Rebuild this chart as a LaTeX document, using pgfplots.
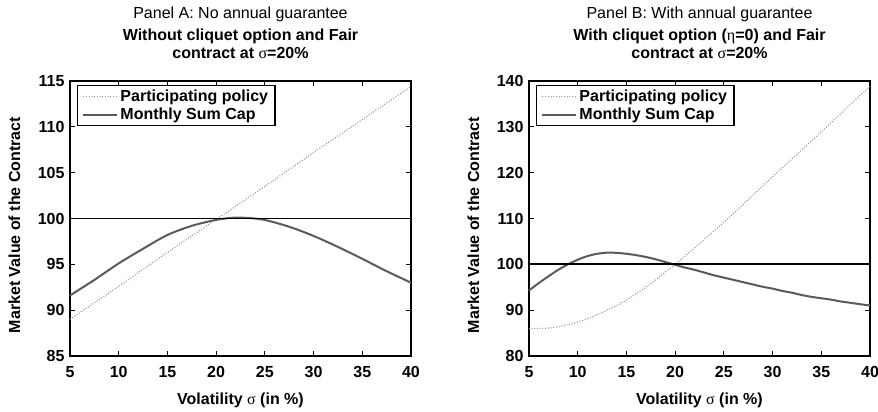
\documentclass[border=0pt]{standalone}
\usepackage{fontspec}
\setmainfont{Liberation Sans}
\newfontfamily\symf{Liberation Serif}
\usepackage{pgfplots}
\pgfplotsset{compat=1.18}
\newcommand{\fs}{\fontsize{16}{17.5}\selectfont}
\newcommand{\gs}[1]{{\symf\mdseries #1}}
\definecolor{capgray}{RGB}{90,90,90}
\definecolor{dotgray}{RGB}{145,145,145}
\pgfplotsset{
  mystyle/.style={
    scale only axis,
    width=341pt, height=275pt,
    xmin=5, xmax=40,
    xtick={5,10,...,40},
    axis line style={line width=1.6pt},
    tick style={line width=1pt, black},
    tick align=inside,
    major tick length=5pt,
    /pgf/number format/assume math mode=true,
    tick label style={font=\bfseries\fs},
    xticklabel style={yshift=-7pt},
    yticklabel style={xshift=-2pt},
    x label style={font=\bfseries\fs, at={(axis description cs:0.5,-0.16)}, anchor=center},
    y label style={font=\bfseries\fs, at={(axis description cs:-0.163,0.476)}, anchor=center},
    xlabel={Volatility \gs{σ} (in \%)},
    ylabel={Market Value of the Contract},
    title style={font=\bfseries\fs, align=center, at={(0.5,1)}, anchor=south, yshift=13pt},
    legend style={draw=black, line width=1.3pt, fill=white, font=\bfseries\fs,
      at={(0.02,0.986)}, anchor=north west, inner xsep=5pt, inner ysep=2.5pt,
      row sep=1pt, cells={anchor=west}},
    legend image code/.code={\draw[##1] (0pt,0pt) -- (34pt,0pt);},
    clip=false,
  }
}
\begin{document}
\begin{tikzpicture}
\useasboundingbox (-70pt,-56pt) rectangle (808pt,356pt);
\begin{axis}[mystyle,
  ymin=85, ymax=115, ytick={85,90,...,115},
  title={Without cliquet option and Fair\\contract at \gs{σ}=20\%}]
\addplot[dotgray, line width=1.2pt, dash pattern=on 0.9pt off 1.8pt] coordinates {
(5,89.0) (10,92.6) (15,96.3) (20,99.9) (25,103.5) (30,107.2) (35,110.8) (40,114.4)};
\addlegendentry{Participating policy}
\addplot[capgray, line width=2pt, smooth] coordinates {
(5,91.6) (7.5,93.3) (10,95.1) (12.5,96.7) (15,98.2) (17.5,99.2) (20,99.85) (22,100.1) (24,100.0) (25,99.85) (27.5,99.1) (30,98.1) (32.5,96.9) (35,95.6) (37.5,94.25) (40,93.0)};
\addlegendentry{Monthly Sum Cap}
\addplot[black, line width=1.7pt, forget plot] coordinates {(5,100) (40,100)};
\node[font=\fs] at ([yshift=67pt]rel axis cs:0.5,1) {Panel A: No annual guarantee};
\end{axis}
\begin{axis}[mystyle, at={(459pt,0pt)},
  ymin=80, ymax=140, ytick={80,90,...,140},
  title={With cliquet option (\gs{η}=0) and Fair\\contract at \gs{σ}=20\%}]
\addplot[dotgray, line width=1.2pt, dash pattern=on 0.9pt off 1.8pt, smooth] coordinates {
(5,86.0) (6,86.0) (7,86.1) (8,86.4) (9,86.8) (10,87.4) (11,88.1) (12,89.0) (13,90.0) (14,91.0) (15,92.2) (16,93.6) (17,95.0) (18,96.6) (19,98.3) (20,100.0) (22,103.6) (25,109.2) (28,115.1) (30,119.1) (32,123.0) (35,128.9) (38,134.9) (40,138.8)};
\addlegendentry{Participating policy}
\addplot[capgray, line width=2pt, smooth] coordinates {
(5,94.3) (6,95.9) (7,97.4) (8,98.8) (9,100.0) (10,101.0) (11,101.8) (12,102.3) (13,102.55) (14,102.5) (15,102.3) (16,102.0) (17,101.6) (18,101.1) (19,100.5) (20,99.9) (21,99.3) (22,98.8) (23,98.2) (24,97.6) (25,97.1) (26,96.6) (27,96.1) (28,95.6) (29,95.1) (30,94.7) (31,94.2) (32,93.8) (33,93.3) (34,92.9) (35,92.6) (36,92.3) (37,91.9) (38,91.6) (39,91.3) (40,91.0)};
\addlegendentry{Monthly Sum Cap}
\addplot[black, line width=1.7pt, forget plot] coordinates {(5,100) (40,100)};
\node[font=\fs] at ([yshift=67pt]rel axis cs:0.5,1) {Panel B: With annual guarantee};
\end{axis}
\end{tikzpicture}
\end{document}
